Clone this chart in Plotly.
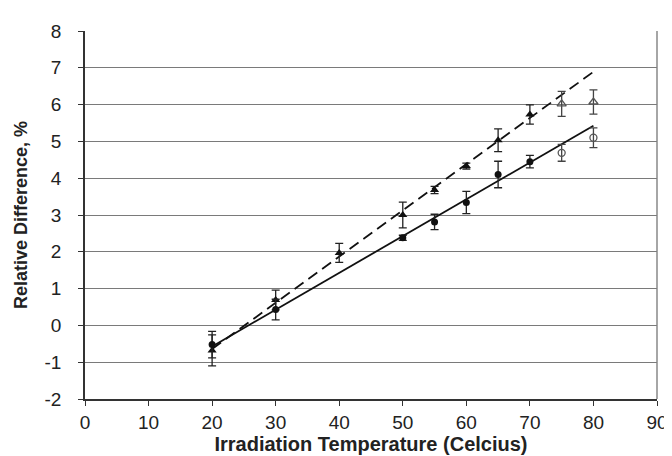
import numpy as np
import plotly.graph_objects as go

# Triangles (dashed fit)
tri_x = [20, 30, 40, 50, 55, 60, 65, 70]
tri_y = [-0.68, 0.69, 1.97, 3.00, 3.68, 4.33, 5.03, 5.73]
tri_err = [0.42, 0.27, 0.26, 0.35, 0.10, 0.08, 0.31, 0.26]
tri_open_x = [75, 80]
tri_open_y = [6.02, 6.07]
tri_open_err = [0.34, 0.33]

# Circles (solid fit)
cir_x = [20, 30, 50, 55, 60, 65, 70]
cir_y = [-0.52, 0.43, 2.38, 2.81, 3.34, 4.10, 4.45]
cir_err = [0.36, 0.28, 0.07, 0.21, 0.30, 0.36, 0.17]
cir_open_x = [75, 80]
cir_open_y = [4.69, 5.10]
cir_open_err = [0.23, 0.27]

x_ticks = [0, 10, 20, 30, 40, 50, 60, 70, 80, 90]
y_ticks = [-2, -1, 0, 1, 2, 3, 4, 5, 6, 7, 8]
y_tick_text = ["-2", "-1", "0", "1", "2", "3", "4", "5", "6", "7", "8"]

fit_x = np.array([20, 80])
pt = np.polyfit(tri_x, tri_y, 1)
pc = np.polyfit(cir_x, cir_y, 1)

fig = go.Figure()
fig.add_trace(go.Scatter(x=fit_x, y=np.polyval(pt, fit_x), mode="lines",
                         line=dict(color="#111111", width=1.8, dash="11px,6px"), showlegend=False))
fig.add_trace(go.Scatter(x=fit_x, y=np.polyval(pc, fit_x), mode="lines",
                         line=dict(color="#111111", width=1.8), showlegend=False))

def err(arr, color):
    return dict(type="data", array=arr, visible=True, color=color, thickness=1.3, width=4)

fig.add_trace(go.Scatter(x=tri_x, y=tri_y, mode="markers",
                         marker=dict(symbol="triangle-up", size=8, color="#111111"),
                         error_y=err(tri_err, "#222222"), showlegend=False))
fig.add_trace(go.Scatter(x=cir_x, y=cir_y, mode="markers",
                         marker=dict(symbol="circle", size=7, color="#111111"),
                         error_y=err(cir_err, "#222222"), showlegend=False))
fig.add_trace(go.Scatter(x=tri_open_x, y=tri_open_y, mode="markers",
                         marker=dict(symbol="triangle-up-open", size=8, color="#555555", line=dict(width=1.3)),
                         error_y=err(tri_open_err, "#444444"), showlegend=False))
fig.add_trace(go.Scatter(x=cir_open_x, y=cir_open_y, mode="markers",
                         marker=dict(symbol="circle-open", size=7, color="#555555", line=dict(width=1.3)),
                         error_y=err(cir_open_err, "#444444"), showlegend=False))

fig.update_layout(
    width=672, height=456,
    margin=dict(l=77, r=15, t=23, b=64),
    paper_bgcolor="white", plot_bgcolor="white",
    font=dict(family="Liberation Sans, Arial, sans-serif", size=18, color="#222222"),
)
fig.update_xaxes(range=[0, 90], tickvals=x_ticks, showgrid=False, zeroline=False,
                 showline=True, linecolor="#333333", linewidth=1.6, mirror=False,
                 ticks="outside", ticklen=5, tickcolor="#333333", tickfont=dict(size=19),
                 title=dict(text="<b>Irradiation Temperature (Celcius)</b>", font=dict(size=20), standoff=5))
fig.update_yaxes(range=[-2, 8], tickvals=y_ticks, ticktext=y_tick_text, showgrid=True,
                 gridcolor="#7a7a7a", gridwidth=1.4,
                 zeroline=False, showline=True, linecolor="#333333", linewidth=1.6,
                 ticks="outside", ticklen=5, tickcolor="#333333", tickfont=dict(size=19),
                 ticklabelstandoff=13,
                 title=dict(text="<b>Relative Difference, %</b>", font=dict(size=18), standoff=12))
# right border
fig.add_shape(type="line", xref="paper", yref="paper", x0=1, x1=1, y0=0, y1=1,
              line=dict(color="#808080", width=1.4))

fig.write_html("out.html")
